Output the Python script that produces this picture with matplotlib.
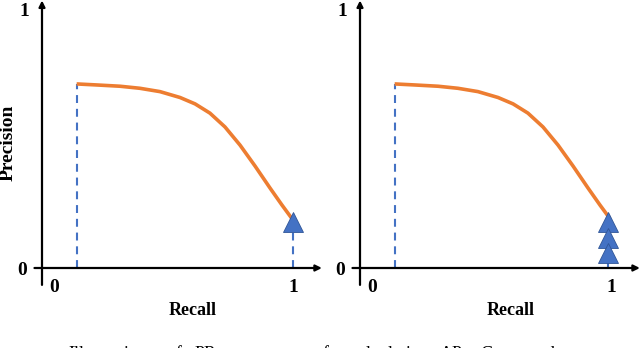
import numpy as np
import matplotlib.pyplot as plt

plt.rcParams['font.family'] = ['Liberation Serif', 'DejaVu Serif']

ORANGE = '#ED7D31'
BLUE = '#4472C4'

# PR curve (same curve in both panels)
recall = [0.138, 0.218, 0.311, 0.390, 0.470, 0.550, 0.610, 0.669, 0.729,
          0.789, 0.849, 0.908, 0.956, 0.995]
precision = [0.719, 0.715, 0.710, 0.702, 0.689, 0.666, 0.641, 0.605, 0.551,
             0.480, 0.398, 0.313, 0.246, 0.194]

# ground-truth markers at the end of the curve
gt_left_x = [1.0]
gt_left_y = [0.18]
gt_right_x = [0.99, 0.99, 0.99]
gt_right_y = [0.18, 0.117, 0.059]

tick_labels = ['0', '1']
caption_words = ['Illustration', 'of', 'PR', 'curves', 'for', 'calculating', 'AP.', 'Compared', 'w']
caption_x = [68, 167, 195, 232, 322, 350, 440, 480, 628]

W, H = 640, 348
fig = plt.figure(figsize=(W / 100, H / 100), dpi=100)


def panel(rect, x0_px, xs_gt, ys_gt, ylabel):
    ax = fig.add_axes(rect)
    ax.set_xlim(-x0_px / 251, (320 - x0_px) / 251)
    ax.set_ylim((268 - 348) / 256, 268 / 256)
    ax.axis('off')

    # axes with arrows
    arr = dict(arrowstyle='-|>', lw=1.6, color='black', mutation_scale=9,
               shrinkA=0, shrinkB=0)
    ax.annotate('', xy=(1.115, 0), xytext=(-0.03, 0), arrowprops=arr,
                annotation_clip=False)
    ax.annotate('', xy=(0, 1.045), xytext=(0, -0.066), arrowprops=arr,
                annotation_clip=False)

    # dashed drop lines
    ax.plot([recall[0], recall[0]], [0, precision[0]], color=BLUE, lw=1.5,
            dashes=(3.8, 2.8), clip_on=False)
    ax.plot([xs_gt[0], xs_gt[0]], [0, min(ys_gt)], color=BLUE, lw=1.5,
            dashes=(3.8, 2.8), clip_on=False)

    ax.plot(recall, precision, color=ORANGE, lw=2.6, solid_capstyle='butt',
            solid_joinstyle='round', clip_on=False)
    ax.plot(xs_gt, ys_gt, linestyle='none', marker='^', ms=15,
            markerfacecolor=BLUE, markeredgecolor='#2F5597', markeredgewidth=0.6,
            clip_on=False, zorder=5)

    tk = dict(fontsize=14, fontweight='bold', ha='center', va='center')
    ax.text(-0.07, 1.0, tick_labels[1], **tk)
    ax.text(-0.08, -0.01, tick_labels[0], **tk)
    ax.text(0.05, -0.075, tick_labels[0], **tk)
    ax.text(1.0, -0.075, tick_labels[1], **tk)
    ax.text(0.6, -0.165, 'Recall', fontsize=13, fontweight='bold',
            ha='center', va='center')
    if ylabel:
        ax.text(-0.135, 0.488, ylabel, fontsize=14, fontweight='bold',
                rotation=90, ha='center', va='center')
    return ax


panel([0, 0, 0.5, 1], 42, gt_left_x, gt_left_y, 'Precision')
panel([0.5, 0, 0.5, 1], 40, gt_right_x, gt_right_y, None)

# caption below the figure, only its top edge shows
for word, x in zip(caption_words, caption_x):
    fig.text(x / W, 1 - 346 / H, word, fontsize=13, ha='left', va='top')

fig.savefig('out.png', dpi=100)
